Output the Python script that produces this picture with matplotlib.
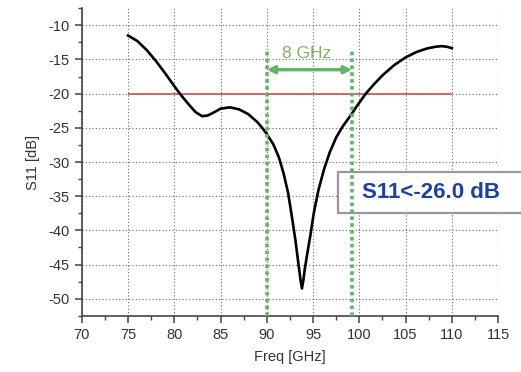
import numpy as np
import matplotlib.pyplot as plt
from matplotlib.ticker import MultipleLocator
from matplotlib.patches import Rectangle

plt.rcParams['font.family'] = ['Liberation Sans', 'DejaVu Sans']
plt.rcParams['axes.unicode_minus'] = False

# S11 curve
freq = [75, 76, 77, 78, 79, 80, 80.6, 81.2, 81.7, 82.3, 83, 83.6, 84.2,
        85, 86, 87, 88, 89, 89.5, 90, 90.7, 91.3, 91.8, 92.3, 92.7, 93.1,
        93.4, 93.65, 93.8, 93.95, 94.1, 94.4, 94.7, 95.1, 95.6, 96.2, 96.8,
        97.5, 98.2, 99.0, 99.8, 100.7, 101.6, 102.6, 103.8, 105.0, 106.2,
        107.3, 108.2, 108.9, 109.5, 110]
s11 = [-11.5, -12.3, -13.6, -15.2, -17.0, -18.9, -20.0, -21.0, -21.8, -22.7,
       -23.3, -23.2, -22.8, -22.2, -22.0, -22.3, -23.0, -24.2, -25.0, -25.9,
       -27.4, -29.3, -31.6, -34.5, -37.9, -41.5, -44.7, -47.3, -48.5, -47.3,
       -45.7, -43.2, -40.8, -37.3, -34.0, -31.0, -28.6, -26.4, -24.8, -23.3,
       -21.7, -20.0, -18.6, -17.2, -15.8, -14.7, -13.9, -13.4, -13.15, -13.05,
       -13.15, -13.35]

threshold = -20
band_lo, band_hi = 90, 99.2
band_label = '8 GHz'
box_label = 'S11<-26.0 dB'

fig = plt.figure(figsize=(5.21, 3.72), dpi=100)
ax = fig.add_axes([0.157, 0.151, 0.799, 0.827])

ax.set_xlim(70, 115)
ax.set_ylim(-52.5, -7.5)
ax.xaxis.set_major_locator(MultipleLocator(5))
ax.xaxis.set_minor_locator(MultipleLocator(2.5))
ax.yaxis.set_major_locator(MultipleLocator(5))
ax.yaxis.set_minor_locator(MultipleLocator(2.5))
ax.set_yticks(np.arange(-50, -9, 5))

for s in ['top', 'right']:
    ax.spines[s].set_visible(False)
for s in ['left', 'bottom']:
    ax.spines[s].set_color('#444444')
    ax.spines[s].set_linewidth(1.2)
ax.tick_params(which='major', direction='out', length=5, width=1.1,
               color='#444444', labelsize=10.5, labelcolor='#333333')
ax.tick_params(which='minor', direction='out', length=3, width=1.0,
               color='#444444')

ax.grid(True, which='major', color='#666666', linestyle=(0, (1, 2)),
        linewidth=0.8)
ax.set_axisbelow(True)

ax.set_xlabel('Freq [GHz]', fontsize=10.5, color='#333333', labelpad=6)
ax.set_ylabel('S11 [dB]', fontsize=10.5, color='#333333', labelpad=6)

# text box (runs off the right side of the picture)
ax.add_patch(Rectangle((97.7, -37.4), 22, 6.0, facecolor='white',
                       edgecolor='#999999', linewidth=1.6, zorder=2,
                       clip_on=False))
ax.text(107.8, -34.4, box_label, fontsize=16, fontweight='bold',
        color='#1c3fa8', ha='center', va='center', zorder=3)

ax.hlines(threshold, 75, 110, color='#c9505a', linewidth=1.2, zorder=3)
ax.plot(freq, s11, color='black', linewidth=1.9, zorder=4)

ymax_frac = (-13.5 - ax.get_ylim()[0]) / (ax.get_ylim()[1] - ax.get_ylim()[0])
for xv in (band_lo, band_hi):
    ax.axvline(xv, ymin=0, ymax=ymax_frac, color='#62b466', linewidth=2.6,
               linestyle=(0, (1, 0.9)), zorder=5)

ax.annotate('', xy=(band_lo, -16.5), xytext=(band_hi, -16.5),
            arrowprops=dict(arrowstyle='<|-|>', color='#62b466', lw=2.4,
                            mutation_scale=11, shrinkA=0, shrinkB=0),
            zorder=5)
ax.text((band_lo + band_hi) / 2 - 0.3, -14.2, band_label, fontsize=12.5,
        color='#7fb063', ha='center', va='center', zorder=5)

fig.savefig('out.png', dpi=100)
